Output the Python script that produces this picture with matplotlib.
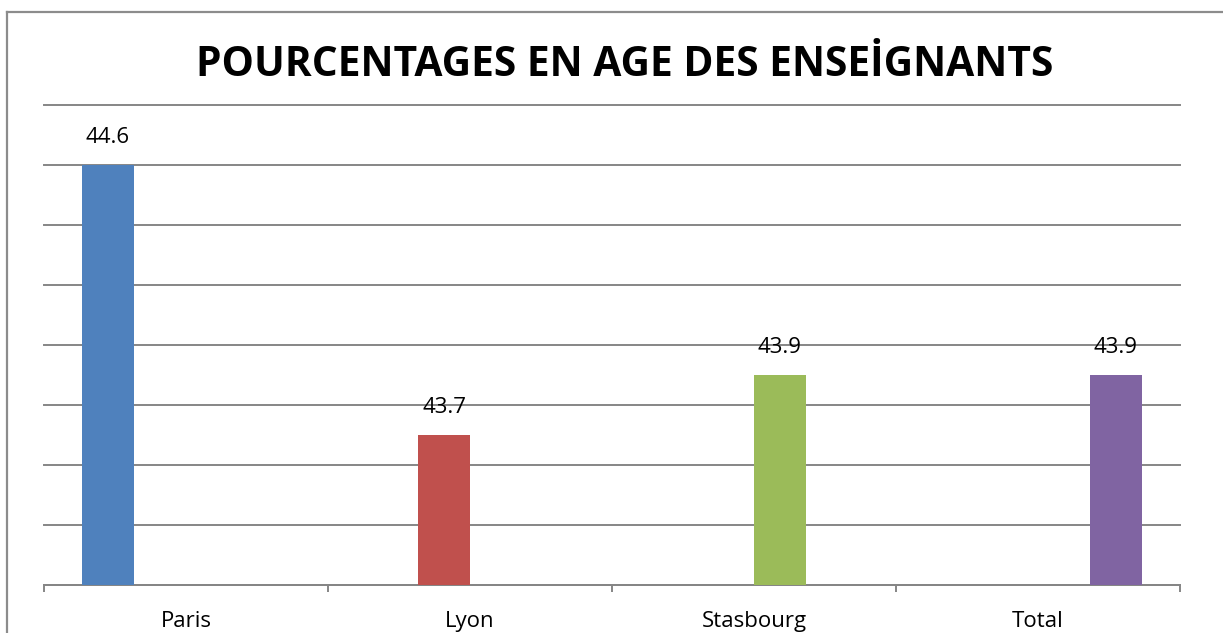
import matplotlib.pyplot as plt
import numpy as np
from matplotlib.lines import Line2D

villes = ["Paris", "Lyon", "Stasbourg", "Total"]
ages = [44.6, 43.7, 43.9, 43.9]
couleurs = ["#4F81BD", "#C0504D", "#9BBB59", "#8064A2"]
titre = "POURCENTAGES EN AGE DES ENSEİGNANTS"

plt.rcParams['font.family'] = ['Open Sans', 'DejaVu Sans']

fig = plt.figure(figsize=(12.23, 6.33), dpi=100)
ax = fig.add_axes([44/1223, 1 - 585/633, 1136/1223, 480/633])

# clustered layout: each series sits in its own slot of the group
largeur = 0.183
x = np.arange(len(villes))
for i, (v, c) in enumerate(zip(ages, couleurs)):
    pos = x[i] + (i - 1.5) * largeur
    ax.bar(pos, v, width=largeur, color=c, zorder=3)
    ax.annotate(f"{v:.1f}", (pos, v), xytext=(0, 12), textcoords="offset points",
                ha="center", va="bottom", fontsize=16, color="black")

ax.set_xlim(-0.5, len(villes) - 0.5)
ax.set_ylim(43.2, 44.8)
ax.set_yticks(np.arange(43.2, 44.81, 0.2))
ax.yaxis.grid(True, color="#868686", linewidth=1.4)
for g in ax.get_ygridlines():
    g.set_clip_on(False)
ax.tick_params(axis="y", length=0, labelleft=False)

ax.set_xticks(np.arange(-0.5, len(villes), 1.0))
ax.set_xticklabels([])
ax.tick_params(axis="x", which="major", length=5, width=1.4, color="#868686")
ax.set_xticks(x, minor=True)
ax.set_xticklabels(villes, minor=True, fontsize=16)
ax.tick_params(axis="x", which="minor", length=0, pad=19)

for s in ["left", "right", "top"]:
    ax.spines[s].set_visible(False)
ax.spines["bottom"].set_color("#868686")
ax.spines["bottom"].set_linewidth(1.4)

fig.text(625/1223, 1 - 65/633, titre, ha="center", va="center",
         fontsize=29.3, fontweight="bold")

# chart area border (cut by the image on right and bottom)
fig.add_artist(Line2D([7/1223, 1], [1 - 12/633, 1 - 12/633], color="#8c8c8c", linewidth=1.6))
fig.add_artist(Line2D([7/1223, 7/1223], [0, 1 - 12/633], color="#8c8c8c", linewidth=1.6))

fig.savefig("out.png", dpi=100)
